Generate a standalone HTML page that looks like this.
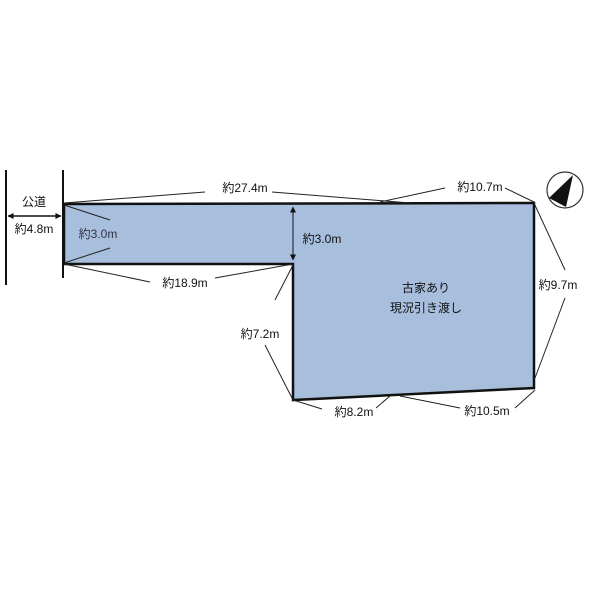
<!DOCTYPE html>
<html><head><meta charset="utf-8"><style>
body{margin:0;background:#fff}
svg text{font-family:"Liberation Sans","Noto Sans CJK JP",sans-serif;font-size:12px;fill:#111}
</style></head><body>
<svg width="600" height="600" viewBox="0 0 600 600" xmlns="http://www.w3.org/2000/svg">
<defs><marker id="a" markerWidth="6" markerHeight="6" refX="5.5" refY="3" orient="auto-start-reverse" markerUnits="userSpaceOnUse"><path d="M0,0 L6,3 L0,6z" fill="#111"/></marker></defs>
<polygon points="64,204 534,203 534,388 293,400 293,264 64,264" fill="#a7bedd" stroke="#111" stroke-width="2.5"/>
<line x1="6" y1="170" x2="6" y2="285" stroke="#111" stroke-width="2"/>
<line x1="63" y1="170" x2="63" y2="278" stroke="#111" stroke-width="2"/>
<line x1="8" y1="216" x2="61" y2="216" stroke="#111" stroke-width="1.5" marker-end="url(#a)" marker-start="url(#a)"/>
<line x1="293" y1="207" x2="293" y2="260" stroke="#111" stroke-width="1" marker-end="url(#a)" marker-start="url(#a)"/>
<g stroke="#222" stroke-width="1" fill="none">
<path d="M64,203 L205,192 M272,192 L410,203"/>
<path d="M380,202 L445,188 M505,188 L534,202"/>
<path d="M534,203 L565,270 M565,298 L535,378"/>
<path d="M535,390 L515,408 M460,408 L400,396"/>
<path d="M390,396 L376,408 M322,409 L293,400"/>
<path d="M293,265 L275,300 M265,345 L293,400"/>
<path d="M64,264 L150,282 M215,278 L293,264"/>
<path d="M64,205 L110,220 M110,248 L64,263"/>
</g>
<text x="34" y="206" text-anchor="middle">公道</text>
<text x="34" y="233" text-anchor="middle">約4.8m</text>
<text x="98" y="238" text-anchor="middle" style="fill:#334">約3.0m</text>
<text x="245" y="192" text-anchor="middle">約27.4m</text>
<text x="480" y="191" text-anchor="middle">約10.7m</text>
<text x="322" y="243" text-anchor="middle">約3.0m</text>
<text x="558" y="289" text-anchor="middle">約9.7m</text>
<text x="185" y="287" text-anchor="middle">約18.9m</text>
<text x="260" y="338" text-anchor="middle">約7.2m</text>
<text x="354" y="416" text-anchor="middle">約8.2m</text>
<text x="487" y="415" text-anchor="middle">約10.5m</text>
<text x="426" y="292" text-anchor="middle">古家あり</text>
<text x="426" y="312" text-anchor="middle">現況引き渡し</text>
<circle cx="565" cy="190" r="18" fill="none" stroke="#333" stroke-width="1.2"/>
<polygon points="573,175 549,198 566,207" fill="#111"/>
</svg>
</body></html>
